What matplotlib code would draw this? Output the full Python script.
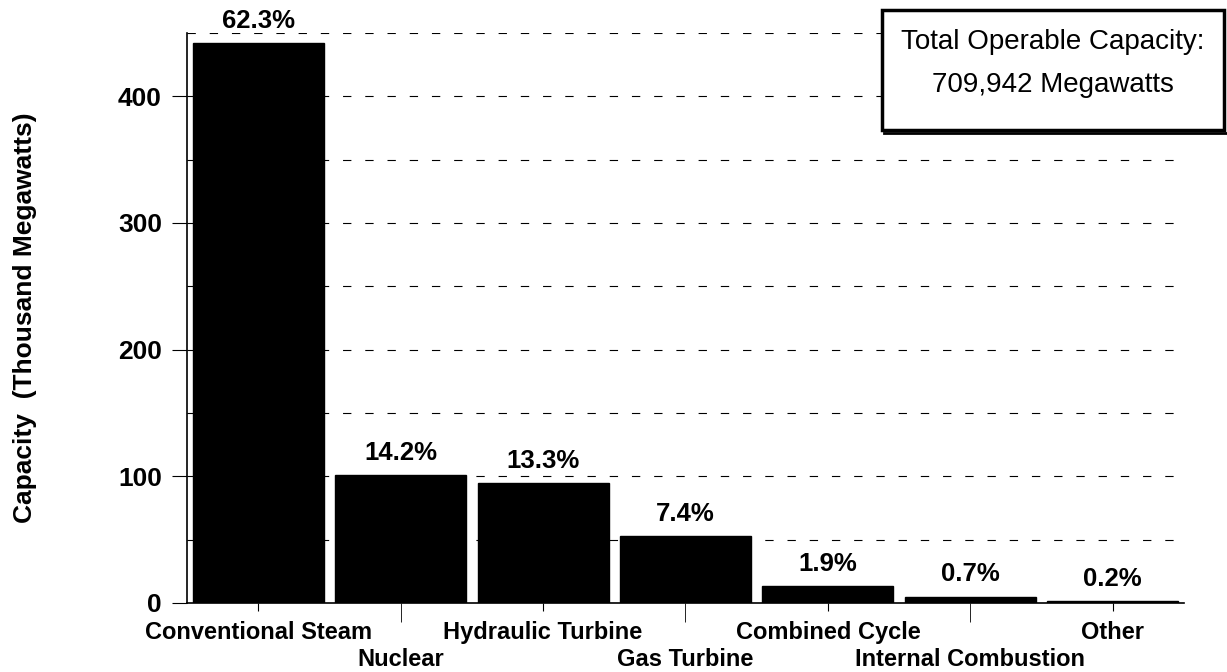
import numpy as np
import matplotlib
matplotlib.use("Agg")
import matplotlib.pyplot as plt
from matplotlib.patches import Rectangle
from matplotlib.lines import Line2D
from matplotlib.ticker import MultipleLocator

plt.rcParams['font.family'] = ['Liberation Sans', 'DejaVu Sans']
plt.rcParams['lines.scale_dashes'] = False

# Capacidade por tipo de geração (mil MW)
categories = ["Conventional Steam", "Nuclear", "Hydraulic Turbine", "Gas Turbine",
              "Combined Cycle", "Internal Combustion", "Other"]
capacity = [442.3, 100.8, 94.4, 52.5, 13.5, 5.0, 1.4]
share_labels = ["62.3%", "14.2%", "13.3%", "7.4%", "1.9%", "0.7%", "0.2%"]
y_ticks = [0, 100, 200, 300, 400]
total_text = ["Total Operable Capacity:", "709,942 Megawatts"]

fig = plt.figure(figsize=(12.27, 6.72), dpi=100)
ax = fig.add_axes([0.1524, 0.1027, 0.8125, 0.8482])

x = np.arange(len(categories))
ax.bar(x, capacity, width=0.92, color='black', edgecolor='black', zorder=3)

# rótulos de porcentagem
for xi, val, lab in zip(x, capacity, share_labels):
    ax.annotate(lab, (xi, val), xytext=(0, 16), textcoords='offset points',
                ha='center', va='center', fontsize=18.5, fontweight='bold', zorder=4)

ax.set_xlim(-0.5, len(categories) - 0.5)
ax.set_ylim(0, 450)
ax.set_yticks(y_ticks)
ax.yaxis.set_minor_locator(MultipleLocator(50))
ax.grid(axis='y', which='both', linestyle=(0, (6, 10)), color='black', lw=0.8, zorder=0)
ax.set_axisbelow(True)

# rótulos do eixo x em duas linhas alternadas
ax.set_xticks(x[::2], [categories[i] for i in x[::2]])
ax.set_xticks(x[1::2], [categories[i] for i in x[1::2]], minor=True)
ax.tick_params(axis='x', which='major', length=6, pad=7, labelsize=17)
ax.tick_params(axis='x', which='minor', length=14, pad=18.5, labelsize=17)
for lbl in ax.get_xticklabels(which='both'):
    lbl.set_fontweight('bold')

ax.tick_params(axis='y', which='major', length=11, pad=7, labelsize=19, direction='out')
ax.tick_params(axis='y', which='minor', length=4, direction='in')
for lbl in ax.get_yticklabels():
    lbl.set_fontweight('bold')

for s in ['top', 'right']:
    ax.spines[s].set_visible(False)
ax.spines['left'].set_linewidth(1.2)
ax.spines['bottom'].set_linewidth(1.2)

ax.set_ylabel("Capacity  (Thousand Megawatts)", fontsize=19, fontweight='bold', va='center')
ax.yaxis.set_label_coords(-0.1625, 0.5)

# caixa com o total
fig.patches.append(Rectangle((0.7188, 0.8065), 0.2787, 0.1786, transform=fig.transFigure,
                             facecolor='white', edgecolor='black', lw=2.5, zorder=2))
fig.lines.append(Line2D([0.7205, 0.999], [0.8025, 0.8025], transform=fig.transFigure,
                        color='black', lw=2, zorder=2))
fig.text(0.858, 0.9375, total_text[0], ha='center', va='center', fontsize=20, zorder=3)
fig.text(0.858, 0.8735, total_text[1], ha='center', va='center', fontsize=20, zorder=3)

fig.savefig("out.png", dpi=100)
